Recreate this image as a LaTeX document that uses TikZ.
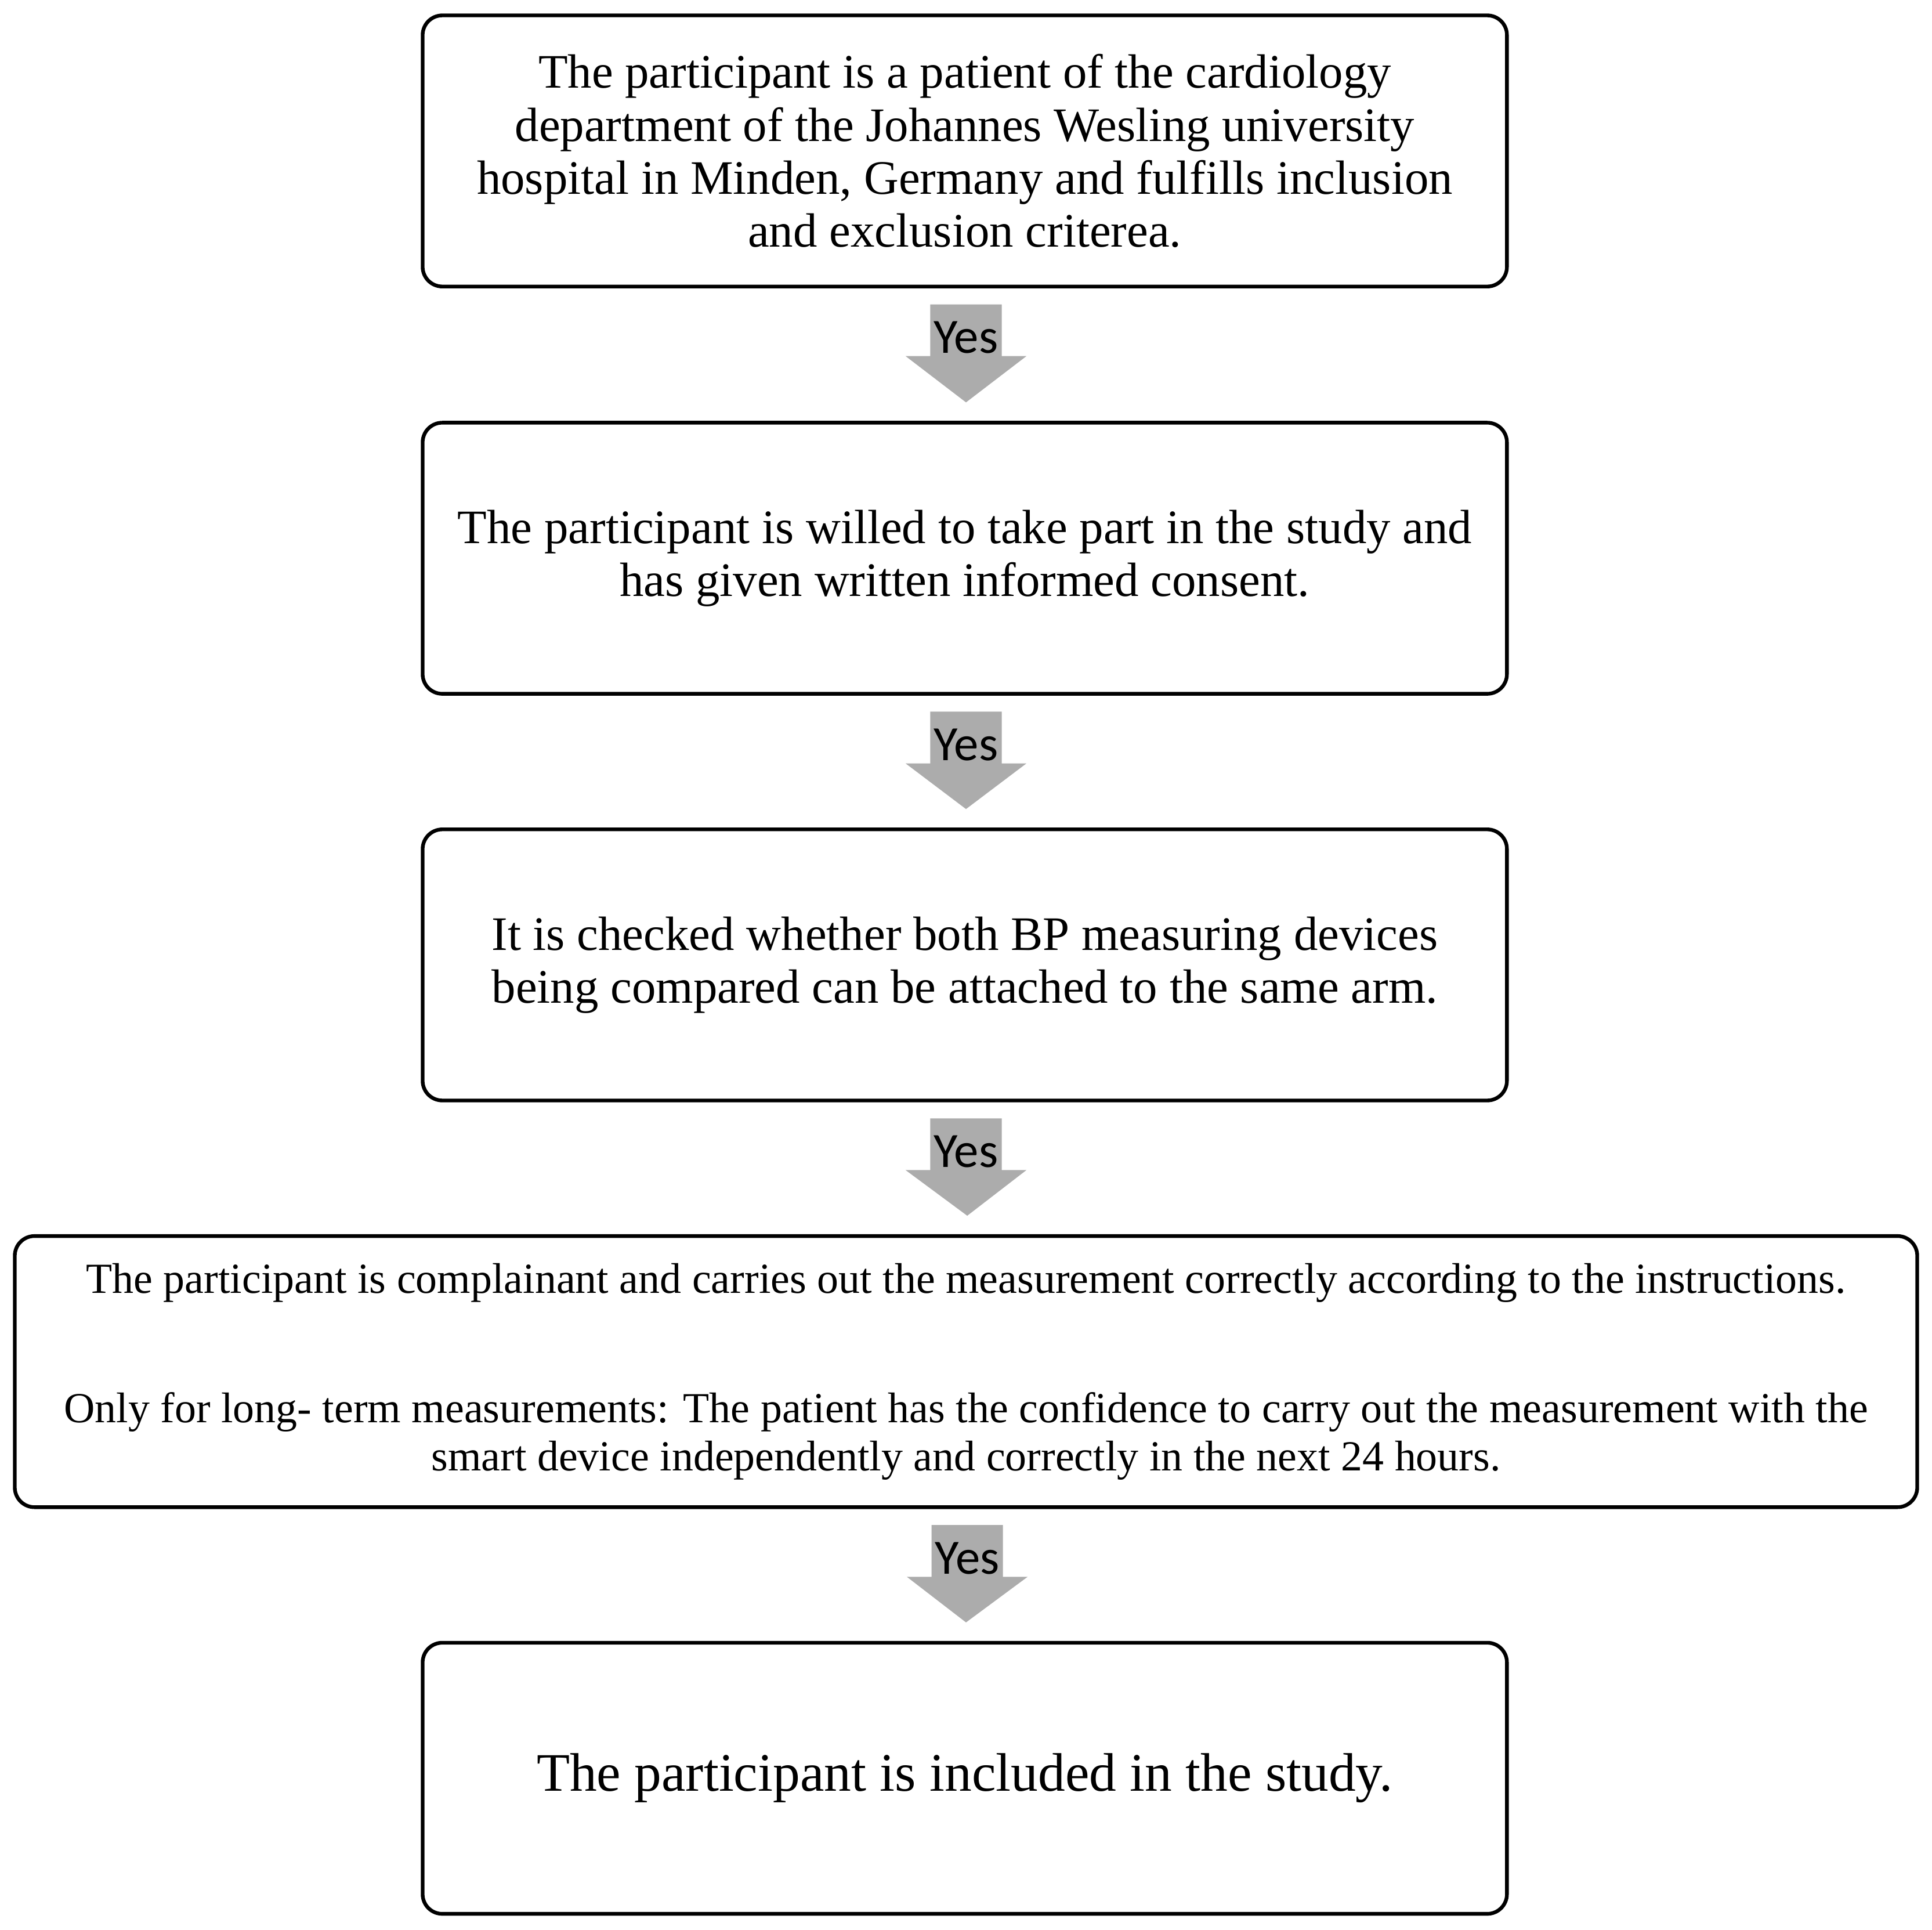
\documentclass[tikz,border=0pt]{standalone}
\usepackage{fontspec}
\setmainfont{Liberation Serif}
\newfontfamily\yesfont{Carlito}
\usetikzlibrary{calc}
\begin{document}
\begin{tikzpicture}[x=0.5pt,y=-0.5pt,
  box/.style={draw=black,line width=1.5pt,rounded corners=8pt,minimum width=440pt,minimum height=110pt,align=center,font=\fontsize{19.5}{21.5}\selectfont,inner sep=0pt},
  yes/.style={font=\yesfont\fontsize{20}{24}\selectfont,inner sep=0pt}]
\useasboundingbox (0,0) rectangle (1568,1566);
\fill[white] (0,0) rectangle (1568,1566);
\node[box] (b1) at (783,122.5) {The participant is a patient of the cardiology\\department of the Johannes Wesling university\\hospital in Minden, Germany and fulfills inclusion\\and exclusion criterea.};
\node[box] (b2) at (783,453) {The participant is willed to take part in the study and\\has given written informed consent.};
\node[box] (b3) at (783,783) {It is checked whether both BP measuring devices\\being compared can be attached to the same arm.};
\node[box,minimum width=772pt,font=\fontsize{17.4}{19.5}\selectfont] (b4) at (784,1113) {The participant is complainant and carries out the measurement correctly according to the instructions.\\[33pt]Only for long- term measurements: The patient has the confidence to carry out the measurement with the\\smart device independently and correctly in the next 24 hours.};
\node[box,font=\fontsize{22}{24}\selectfont] (b5) at (783,1443) {The participant is included in the study.};
\foreach \a/\b/\n in {b1/b2/1,b2/b3/2,b3/b4/3,b4/b5/4}{
  \fill[gray!65] ($(\a.south)+(-28,13)$) -- ($(\a.south)+(30,13)$) -- ($(\a.south)+(30,55)$) -- ($(\a.south)+(50,55)$) -- ($(\b.north)+(1,-15)$) -- ($(\a.south)+(-48,55)$) -- ($(\a.south)+(-28,55)$) -- cycle;
  \node[yes] (y\n) at ($(\a.south)+(1,40)$) {Yes};
}
\end{tikzpicture}
\end{document}
